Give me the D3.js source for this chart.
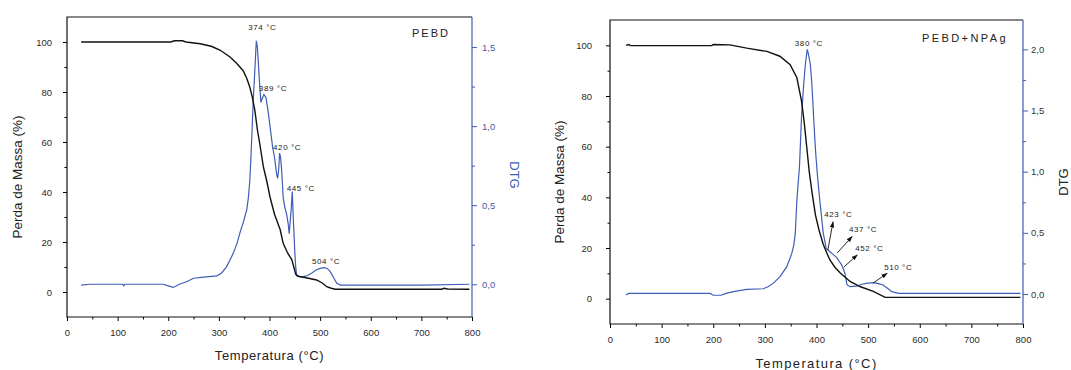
<!DOCTYPE html>
<html>
<head>
<meta charset="utf-8">
<script src="https://cdn.jsdelivr.net/npm/d3@7"></script>
<style>
  body { margin: 0; background: #fff; }
  text { font-family: "Liberation Sans", Arial, sans-serif; }
</style>
</head>
<body>
<div id="chart"></div>
<script>
// ---- dados (Temperatura °C, valor) ----
const tgPEBD = [
  [28,100],[100,100],[205,100],[212,100.5],[228,100.5],[235,100],[263,99.3],[285,98.3],[302,96.8],
  [322,94],[335,91.5],[348,88.5],[355,85.5],[361,82],[366,78],[371,72.8],[376,65],[381,59],
  [388,50],[395,44],[401,38],[410,31],[421,25],[427,19.5],[436,15.5],[444,13],[448,10],[452,7],
  [458,6.2],[470,5.8],[493,4.8],[505,3.5],[513,2.1],[522,1.5],[530,1.1],[740,1.1],[745,1.5],
  [752,1.2],[795,1.1]
];
const dtgPEBD = [
  [28,-0.005],[45,0],[110,0],[112,-0.01],[114,0],[190,0],[200,-0.01],[210,-0.02],[222,0],
  [236,0.016],[250,0.038],[270,0.045],[296,0.053],[305,0.07],[315,0.11],[322,0.154],[329,0.2],
  [336,0.26],[342,0.33],[349,0.4],[355,0.47],[358,0.54],[361,0.65],[363,0.78],[365,0.93],
  [368,1.17],[371,1.35],[373,1.48],[374,1.54],[376,1.5],[378,1.4],[380,1.29],[383,1.15],
  [385,1.17],[389,1.2],[393,1.18],[397,1.1],[401,1.0],[406,0.87],[410,0.8],[414,0.7],[416,0.67],
  [418,0.72],[420,0.83],[422,0.8],[424,0.72],[427,0.55],[430,0.49],[434,0.44],[437,0.38],
  [439,0.32],[441,0.4],[443,0.48],[445,0.586],[447,0.42],[450,0.2],[452,0.1],[454,0.053],
  [460,0.05],[467,0.048],[475,0.055],[483,0.07],[492,0.09],[500,0.1],[508,0.105],[514,0.1],
  [520,0.08],[527,0.04],[533,0.006],[540,-0.005],[700,-0.005],[795,0]
];
const tgNPAg = [
  [31,100],[36,100.3],[40,99.9],[197,99.9],[200,100.3],[232,100.2],[265,98.9],[304,97.6],
  [329,95.7],[349,92.4],[362,87.2],[371,78],[376,70],[381,60],[386,50],[392,41],[398,33],
  [405,27],[413,21.5],[420,18],[426,15.3],[436,12.3],[446,10.1],[465,6.8],[484,4.8],
  [510,2.9],[533,0.5],[795,0.5]
];
const dtgNPAg = [
  [31,-0.008],[36,0.005],[194,0.005],[200,-0.01],[215,-0.01],[225,0.005],[239,0.019],
  [265,0.038],[297,0.043],[306,0.06],[316,0.087],[329,0.14],[342,0.22],[352,0.33],[356,0.4],
  [359,0.5],[362,0.77],[367,1.04],[371,1.45],[375,1.7],[378,1.86],[382,2.0],[384,1.97],
  [388,1.88],[391,1.72],[394,1.48],[397,1.25],[399,1.12],[402,0.96],[407,0.74],[413,0.5],
  [419,0.37],[426,0.345],[433,0.32],[439,0.3],[445,0.26],[449,0.237],[455,0.17],[459,0.076],
  [465,0.06],[478,0.065],[488,0.08],[497,0.087],[510,0.093],[520,0.085],[529,0.074],
  [538,0.045],[546,0.019],[559,0.005],[795,0.005]
];

// rótulos dos picos: [texto, T, DTG]
const picosPEBD = [["374 °C",358,1.61],["389 °C",379,1.22],["420 °C",407,0.85],["445 °C",434,0.59],["504 °C",484,0.13]];
const picosNPAg = [["380 °C",358,2.03],["423 °C",415,0.63],["437 °C",463,0.51],["452 °C",475,0.35],["510 °C",531,0.196]];
// setas: [[T0,d0],[T1,d1]]
const setasNPAg = [
  [[422,0.36],[432,0.59]],
  [[440,0.335],[469,0.47]],
  [[453,0.22],[479,0.32]],
  [[510,0.09],[537,0.17]]
];

const xTicks = [0,100,200,300,400,500,600,700,800];
const xMinor = [50,150,250,350,450,550,650,750];
const mTicks = [0,20,40,60,80,100];
const mMinor = [10,30,50,70,90];
const dTicksPEBD = [0,0.5,1.0,1.5];
const dMinorPEBD = [0.25,0.75,1.25];
const dTicksNPAg = [0,0.5,1.0,1.5,2.0];
const dMinorNPAg = [0.25,0.75,1.25,1.75];

const azul = "#3f5db5";

const svg = d3.select("#chart").append("svg")
  .attr("width", 1071).attr("height", 370)
  .style("background", "#fff");

svg.append("defs").append("marker")
  .attr("id", "seta")
  .attr("viewBox", "0 0 10 10")
  .attr("refX", 9).attr("refY", 5)
  .attr("markerWidth", 7).attr("markerHeight", 7)
  .attr("orient", "auto")
  .append("path").attr("d", "M0,1.5 L10,5 L0,8.5 Z").attr("fill", "#111");

const virgula = d => d3.format(".1f")(d).replace(".", ",");

function painel(cfg) {
  const g = svg.append("g");
  const x = d3.scaleLinear().domain([0, 800]).range([cfg.x0, cfg.x1]);
  const yM = d3.scaleLinear().domain([-10, 110]).range([cfg.y1, cfg.y0]);
  const yD = d3.scaleLinear().domain(cfg.dDomain).range([cfg.y1, cfg.y0]);

  // eixo X
  const ax = g.append("g").attr("transform", `translate(0,${cfg.y1})`);
  ax.call(d3.axisBottom(x).tickValues(xTicks).tickSize(4).tickPadding(cfg.xPad).tickFormat(d3.format("d")));
  ax.append("g").call(d3.axisBottom(x).tickValues(xMinor).tickSize(2.5).tickFormat(""));

  // eixo esquerdo
  const ay = g.append("g").attr("transform", `translate(${cfg.x0},0)`);
  ay.call(d3.axisLeft(yM).tickValues(mTicks).tickSize(4).tickPadding(cfg.yPad));
  ay.append("g").call(d3.axisLeft(yM).tickValues(mMinor).tickSize(2.5).tickFormat(""));

  // eixo direito (DTG)
  const ad = g.append("g").attr("transform", `translate(${cfg.x1},0)`);
  ad.call(d3.axisRight(yD).tickValues(cfg.dTicks).tickSize(5).tickPadding(cfg.dPad).tickFormat(virgula));
  ad.append("g").call(d3.axisRight(yD).tickValues(cfg.dMinor).tickSize(3).tickFormat(""));
  ad.selectAll(".tick line").attr("stroke", azul);

  g.selectAll(".domain").remove();
  g.selectAll(".tick text")
    .style("font-size", "9.5px")
    .attr("fill", "#2a2a2a");
  ad.selectAll(".tick text").attr("fill", cfg.dTickColor);

  // moldura
  g.append("path")
    .attr("d", `M${cfg.x1},${cfg.y0} H${cfg.x0} V${cfg.y1} H${cfg.x1}`)
    .attr("fill", "none").attr("stroke", "#111").attr("stroke-width", 1.2);
  g.append("line")
    .attr("x1", cfg.x1).attr("x2", cfg.x1).attr("y1", cfg.y0).attr("y2", cfg.y1)
    .attr("stroke", azul).attr("stroke-width", 1.2);

  // curvas
  const linhaM = d3.line().x(d => x(d[0])).y(d => yM(d[1]));
  const linhaD = d3.line().x(d => x(d[0])).y(d => yD(d[1]));
  g.append("path").datum(cfg.dtg)
    .attr("d", linhaD).attr("fill", "none").attr("stroke", azul).attr("stroke-width", 1.2);
  g.append("path").datum(cfg.tg)
    .attr("d", linhaM).attr("fill", "none").attr("stroke", "#111").attr("stroke-width", 1.4);

  // setas
  g.selectAll(".seta").data(cfg.setas).enter().append("line")
    .attr("class", "seta")
    .attr("x1", d => x(d[0][0])).attr("y1", d => yD(d[0][1]))
    .attr("x2", d => x(d[1][0])).attr("y2", d => yD(d[1][1]))
    .attr("stroke", "#111").attr("stroke-width", 0.9)
    .attr("marker-end", "url(#seta)");

  // rótulos dos picos
  g.selectAll(".pico").data(cfg.picos).enter().append("text")
    .attr("class", "pico")
    .attr("x", d => x(d[1])).attr("y", d => yD(d[2]))
    .text(d => d[0])
    .style("font-size", "8px").style("letter-spacing", "0.6px")
    .attr("fill", "#222");

  // títulos
  g.append("text")
    .attr("x", cfg.nomeX).attr("y", cfg.nomeY)
    .text(cfg.nome)
    .style("font-size", "11px").style("letter-spacing", cfg.nomeSp)
    .attr("fill", "#222");

  g.append("text")
    .attr("transform", `translate(${cfg.mLabX},${(cfg.y0 + cfg.y1) / 2 + cfg.mLabDy}) rotate(-90)`)
    .attr("text-anchor", "middle")
    .text("Perda de Massa (%)")
    .style("font-size", "13.5px")
    .attr("fill", "#222");

  g.append("text")
    .attr("x", (cfg.x0 + cfg.x1) / 2).attr("y", cfg.tLabY)
    .attr("text-anchor", "middle")
    .text("Temperatura (°C)")
    .style("font-size", "13px").style("letter-spacing", cfg.tSp)
    .attr("fill", "#222");

  g.append("text")
    .attr("transform", `translate(${cfg.dLabX},${cfg.dLabY}) rotate(${cfg.dRot})`)
    .attr("text-anchor", "middle")
    .text("DTG")
    .style("font-size", "13px")
    .attr("fill", cfg.dLabColor);
}

painel({
  x0: 67, x1: 472, y0: 17, y1: 317,
  dDomain: [-0.207, 1.69], dTicks: dTicksPEBD, dMinor: dMinorPEBD,
  tg: tgPEBD, dtg: dtgPEBD, picos: picosPEBD, setas: [],
  xPad: 8, yPad: 11, dPad: 5, dTickColor: "#4a5a9a",
  nome: "PEBD", nomeX: 412, nomeY: 37, nomeSp: "2px",
  mLabX: 22, mLabDy: 10, tLabY: 360, tSp: "0.6px",
  dLabX: 510, dLabY: 175, dRot: 90, dLabColor: azul
});

painel({
  x0: 610, x1: 1023, y0: 20, y1: 324,
  dDomain: [-0.245, 2.24], dTicks: dTicksNPAg, dMinor: dMinorNPAg,
  tg: tgNPAg, dtg: dtgNPAg, picos: picosNPAg, setas: setasNPAg,
  xPad: 8, yPad: 14, dPad: 3, dTickColor: "#333",
  nome: "PEBD+NPAg", nomeX: 922, nomeY: 42, nomeSp: "2.4px",
  mLabX: 564, mLabDy: 10, tLabY: 368, tSp: "1.4px",
  dLabX: 1068, dLabY: 182, dRot: -90, dLabColor: "#222"
});
</script>
</body>
</html>
